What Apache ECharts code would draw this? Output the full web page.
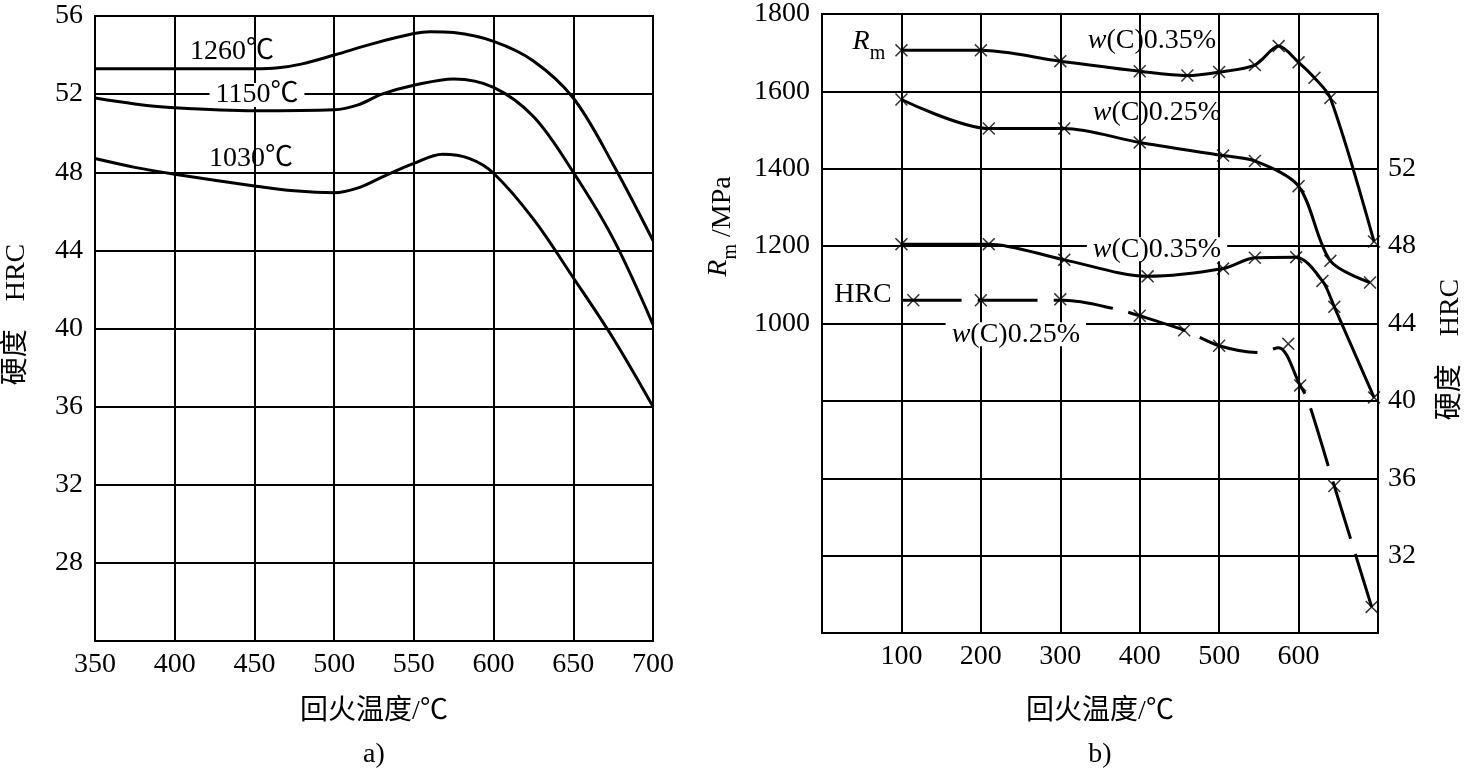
<!DOCTYPE html>
<html><head><meta charset="utf-8">
<script src="https://cdn.jsdelivr.net/npm/echarts@6/dist/echarts.min.js"></script>
<style>html,body{margin:0;padding:0;background:#fff}#c{width:1466px;height:771px}</style>
</head><body><div id="c"></div>
<script>
// ---------------- data: chart a) ----------------
const a1260 = [[350,53.3],[400,53.3],[450,53.3],[465,53.35],[480,53.55],[500,54.0],[525,54.6],[550,55.1],[560,55.2],[575,55.15],[600,54.7],[625,53.7],[650,51.8],[675,48.4],[700,44.5]];
const a1150 = [[350,51.8],[375,51.5],[400,51.3],[450,51.15],[500,51.2],[515,51.45],[530,52.0],[550,52.45],[575,52.78],[600,52.35],[625,50.85],[650,48.0],[675,44.6],[700,40.2]];
const a1030 = [[350,48.7],[375,48.25],[400,47.9],[450,47.3],[475,47.05],[500,46.95],[515,47.2],[530,47.75],[550,48.45],[568,48.92],[585,48.7],[600,47.95],[625,45.6],[650,42.6],[675,39.5],[700,36.0]];
const aLabels = ['1260℃', '1150℃', '1030℃'];
const aLabelAt = [[436,54.16],[451.6,51.96],[447.8,48.68]];
const aLabelOnGrid = [false, true, false];

// ---------------- data: chart b) ----------------
const bRm035 = [[100,1706],[200,1706],[300,1678],[400,1652],[460,1641],[500,1650],[545,1668],[575,1717],[600,1675],[620,1635],[640,1583],[695,1212]];
const bRm025 = [[100,1579],[210,1504],[305,1504],[400,1468],[505,1434],[545,1420],[600,1355],[640,1162],[690,1106]];
const bHRC035 = [[100,48.1],[210,48.1],[305,47.29],[410,46.44],[505,46.84],[545,47.4],[597,47.43],[630,46.2],[645,44.86],[695,40.18]];
const bHRC025Line = [[100,45.2],[200,45.2],[305,45.2],[370,44.75],[400,44.4],[456,43.65],[500,42.85],[550,42.5],[575,42.75],[602,40.8],[612,40.0],[645,35.6],[692,29.35]];
const bHRC025Marks = [[115,45.2],[200,45.2],[300,45.25],[400,44.4],[456,43.65],[500,42.85],[587,42.95],[602,40.8],[645,35.6],[692,29.35]];
const bLabels = ['{R|R}{s|m}', '{i|w}(C)0.35%', '{i|w}(C)0.25%', '{i|w}(C)0.35%', 'HRC', '{i|w}(C)0.25%'];
const bLabelAt = [[59,1703],[415.5,1731],[421.8,1546],[421.8,1192],[51.6,1074],[244,972]];
const bLabelOnGrid = [false, false, false, true, false, true];

// ---------------- styling ----------------
const FONT = "'Liberation Serif','Noto Sans CJK SC',serif";
const BLK = '#000';
const CROSS = 'path://M0,1L1,0L6,5L11,0L12,1L7,6L12,11L11,12L6,7L1,12L0,11L5,6Z';
const rich = {
  i: {fontStyle:'italic', fontFamily:FONT, fontSize:28, color:BLK},
  R: {fontStyle:'italic', fontFamily:FONT, fontSize:28, color:BLK, padding:[0,0,8,0], verticalAlign:'bottom'},
  s: {fontFamily:FONT, fontSize:20, color:BLK, verticalAlign:'bottom'}
};
const tickText = {color:BLK, fontFamily:FONT, fontSize:28};
const nameText = {color:BLK, fontFamily:FONT, fontSize:28};
const axLine = () => ({show:true, onZero:false, lineStyle:{color:BLK, width:2}});
const split = () => ({show:true, lineStyle:{color:BLK, width:2}});

function curve(data, xi, yi, opts) {
  return Object.assign({
    type:'line', xAxisIndex:xi, yAxisIndex:yi, data:data, smooth:0.3,
    showSymbol:false, symbol:'none', z:3,
    lineStyle:{color:BLK, width:3}, itemStyle:{color:BLK}, silent:true, animation:false
  }, opts || {});
}
function marks(data, xi, yi) {
  return {type:'scatter', xAxisIndex:xi, yAxisIndex:yi, data:data, symbol:CROSS,
    symbolSize:13, symbolKeepAspect:true, itemStyle:{color:BLK}, z:4, silent:true, animation:false};
}
function notes(at, texts, onGrid, xi, yi) {
  return {type:'scatter', xAxisIndex:xi, yAxisIndex:yi, symbol:'circle', symbolSize:2, z:6, silent:true, animation:false,
    itemStyle:{color:'rgba(255,255,255,0)'},
    labelLayout:{hideOverlap:false},
    data: at.map((p,i) => ({value:p, label:{backgroundColor: onGrid[i] ? '#fff' : 'transparent', padding: onGrid[i] ? [0,6] : 0}})),
    label:{show:true, position:'inside', opacity:1, color:BLK, fontFamily:FONT, fontSize:28, lineHeight:24,
      formatter: p => texts[p.dataIndex], rich: rich}
  };
}

const chart = echarts.init(document.getElementById('c'), null, {renderer:'canvas'});
chart.setOption({
  animation:false,
  backgroundColor:'#fff',
  grid:[
    {left:95, top:16, width:558, height:625, show:true, borderColor:BLK, borderWidth:2, backgroundColor:'transparent'},
    {left:822, top:9, width:556, height:624, show:true, borderColor:BLK, borderWidth:2, backgroundColor:'transparent'}
  ],
  xAxis:[
    {gridIndex:0, type:'value', min:350, max:700, interval:50, axisLine:axLine(), axisTick:{show:false},
     splitLine:split(), axisLabel:Object.assign({margin:10}, tickText),
     name:'回火温度/℃', nameLocation:'middle', nameGap:57, nameTextStyle:nameText},
    {gridIndex:1, type:'value', min:0, max:700, interval:100, axisLine:axLine(), axisTick:{show:false},
     splitLine:split(), axisLabel:Object.assign({margin:10, formatter: v => (v>=100 && v<=600) ? String(v) : ''}, tickText),
     name:'回火温度/℃', nameLocation:'middle', nameGap:65, nameTextStyle:nameText}
  ],
  yAxis:[
    {gridIndex:0, type:'value', min:24, max:56, interval:4, axisLine:axLine(), axisTick:{show:false},
     splitLine:split(), axisLabel:Object.assign({margin:12, formatter: v => v===24 ? '' : String(v)}, tickText),
     name:'硬度\u3000HRC', nameLocation:'middle', nameRotate:90, nameGap:64,
     nameTextStyle:Object.assign({padding:[0,0,0,28]}, nameText)},
    {gridIndex:1, type:'value', min:200, max:1800, interval:200, axisLine:axLine(), axisTick:{show:false},
     splitLine:split(), axisLabel:Object.assign({margin:12, formatter: v => v>=1000 ? String(v) : ''}, tickText),
     name:'{R|R}{s|m} /MPa', nameLocation:'middle', nameRotate:90, nameGap:81,
     nameTextStyle:Object.assign({padding:[0,0,0,194], rich:rich}, nameText)},
    {gridIndex:1, type:'value', position:'right', min:28, max:60, interval:4, axisLine:axLine(), axisTick:{show:false},
     splitLine:{show:false}, axisLabel:Object.assign({margin:10, formatter: v => (v>=32 && v<=52) ? String(v) : ''}, tickText),
     name:'硬度\u3000HRC', nameLocation:'middle', nameRotate:90, nameGap:59,
     nameTextStyle:Object.assign({padding:[0,52,0,0]}, nameText)}
  ],
  series:[
    curve(a1260, 0, 0, {smooth:0.35}),
    curve(a1150, 0, 0, {smooth:0.35}),
    curve(a1030, 0, 0, {smooth:0.35}),
    notes(aLabelAt, aLabels, aLabelOnGrid, 0, 0),

    curve(bRm035, 1, 1),
    marks(bRm035, 1, 1),
    curve(bRm025, 1, 1),
    marks(bRm025, 1, 1),
    curve(bHRC035, 1, 2),
    marks(bHRC035, 1, 2),
    curve(bHRC025Line, 1, 2, {lineStyle:{color:BLK, width:3, type:[60,16]}}),
    marks(bHRC025Marks, 1, 2),
    notes(bLabelAt, bLabels, bLabelOnGrid, 1, 1)
  ],
  graphic:[
    {type:'text', x:374, y:755, style:{text:'a)', font:"28px 'Liberation Serif'", fill:BLK, align:'center', verticalAlign:'middle'}},
    {type:'text', x:1100, y:755, style:{text:'b)', font:"28px 'Liberation Serif'", fill:BLK, align:'center', verticalAlign:'middle'}}
  ]
});
</script></body></html>
